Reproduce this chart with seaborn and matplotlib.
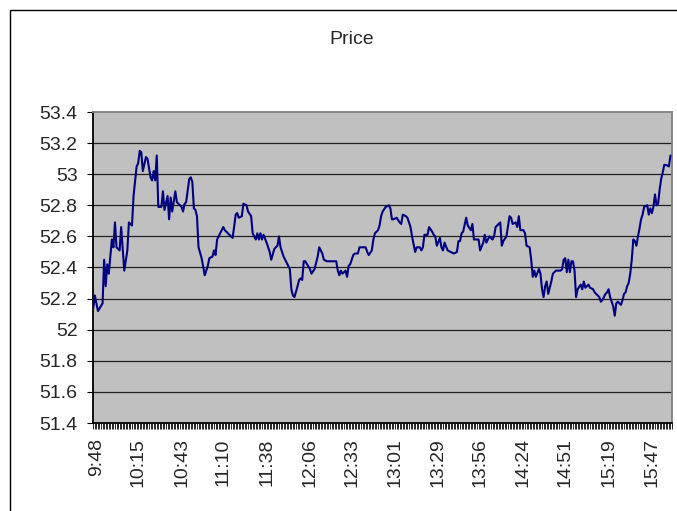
import matplotlib
matplotlib.use("Agg")
import matplotlib.pyplot as plt
from matplotlib.patches import Rectangle
from matplotlib.ticker import MultipleLocator, FixedLocator
import pandas as pd
import seaborn as sns

# minute of day (9:46 = 586) and traded price
minutes = [
    586, 587, 589, 592, 593, 594, 595, 596, 598, 599,
    600, 601, 603, 604, 606, 608, 609, 611, 612, 614,
    615, 616, 617, 618, 620, 621, 623, 624, 625, 626,
    627, 628, 630, 631, 632, 634, 635, 636, 637, 639,
    640, 642, 643, 644, 645, 646, 648, 649, 650, 651,
    652, 653, 654, 656, 658, 660, 661, 663, 664, 665,
    666, 668, 670, 671, 673, 676, 677, 678, 679, 680,
    682, 683, 685, 686, 688, 689, 691, 692, 693, 694,
    695, 696, 698, 700, 701, 703, 705, 706, 707, 709,
    711, 713, 714, 715, 716, 718, 719, 720, 721, 722,
    723, 726, 727, 729, 730, 731, 732, 734, 735, 737,
    740, 743, 744, 745, 746, 747, 749, 750, 751, 752,
    754, 755, 757, 758, 762, 763, 764, 766, 767, 768,
    770, 771, 772, 773, 775, 777, 778, 779, 780, 782,
    784, 785, 786, 788, 789, 791, 792, 794, 795, 797,
    798, 799, 800, 802, 803, 805, 806, 807, 808, 810,
    811, 812, 813, 815, 817, 819, 821, 822, 823, 824,
    825, 827, 828, 830, 831, 832, 835, 836, 838, 839,
    840, 842, 844, 845, 846, 847, 849, 850, 851, 853,
    855, 856, 857, 859, 860, 861, 862, 864, 865, 866,
    868, 869, 870, 871, 872, 874, 875, 876, 877, 878,
    879, 880, 882, 883, 885, 888, 889, 890, 891, 892,
    893, 894, 895, 896, 897, 898, 899, 901, 902, 903,
    904, 906, 907, 909, 910, 912, 913, 914, 915, 917,
    918, 919, 920, 921, 922, 923, 924, 925, 927, 928,
    929, 930, 931, 932, 933, 934, 935, 936, 937, 938,
    939, 940, 941, 942, 944, 945, 946, 947, 948, 949,
    950, 951, 952, 953, 954, 955, 956, 958, 959,
]
price = [
    52.14, 52.22, 52.12, 52.17, 52.45, 52.28, 52.42, 52.36, 52.58, 52.53,
    52.69, 52.53, 52.51, 52.66, 52.38, 52.51, 52.69, 52.67, 52.86, 53.05,
    53.07, 53.15, 53.14, 53.02, 53.11, 53.10, 52.98, 52.96, 53.02, 52.96,
    53.12, 52.79, 52.79, 52.89, 52.77, 52.86, 52.71, 52.85, 52.76, 52.89,
    52.82, 52.80, 52.79, 52.76, 52.81, 52.82, 52.97, 52.98, 52.95, 52.78,
    52.77, 52.73, 52.53, 52.46, 52.35, 52.41, 52.46, 52.47, 52.51, 52.48,
    52.58, 52.62, 52.66, 52.64, 52.62, 52.59, 52.66, 52.74, 52.75, 52.72,
    52.73, 52.81, 52.80, 52.76, 52.73, 52.62, 52.58, 52.62, 52.58, 52.62,
    52.58, 52.61, 52.56, 52.50, 52.45, 52.52, 52.54, 52.60, 52.53, 52.47,
    52.43, 52.39, 52.26, 52.22, 52.21, 52.28, 52.32, 52.33, 52.32, 52.44,
    52.44, 52.39, 52.36, 52.39, 52.43, 52.47, 52.53, 52.49, 52.45, 52.44,
    52.44, 52.44, 52.38, 52.35, 52.38, 52.36, 52.38, 52.34, 52.41, 52.42,
    52.48, 52.49, 52.49, 52.53, 52.53, 52.50, 52.48, 52.51, 52.58, 52.62,
    52.64, 52.67, 52.73, 52.76, 52.79, 52.80, 52.78, 52.71, 52.71, 52.72,
    52.69, 52.68, 52.74, 52.73, 52.72, 52.66, 52.60, 52.50, 52.53, 52.53,
    52.51, 52.53, 52.61, 52.61, 52.66, 52.63, 52.61, 52.60, 52.54, 52.59,
    52.53, 52.51, 52.56, 52.51, 52.50, 52.49, 52.50, 52.57, 52.57, 52.62,
    52.63, 52.72, 52.67, 52.64, 52.68, 52.58, 52.58, 52.51, 52.56, 52.61,
    52.56, 52.60, 52.58, 52.60, 52.66, 52.67, 52.69, 52.54, 52.57, 52.60,
    52.73, 52.72, 52.68, 52.69, 52.66, 52.73, 52.64, 52.64, 52.62, 52.54,
    52.53, 52.45, 52.34, 52.38, 52.34, 52.39, 52.36, 52.26, 52.21, 52.28,
    52.31, 52.23, 52.31, 52.36, 52.38, 52.38, 52.39, 52.45, 52.46, 52.37,
    52.45, 52.37, 52.44, 52.44, 52.38, 52.21, 52.26, 52.29, 52.26, 52.31,
    52.27, 52.29, 52.27, 52.26, 52.24, 52.22, 52.21, 52.18, 52.19, 52.23,
    52.24, 52.26, 52.21, 52.18, 52.15, 52.09, 52.17, 52.18, 52.16, 52.19,
    52.23, 52.24, 52.28, 52.30, 52.36, 52.45, 52.58, 52.57, 52.54, 52.60,
    52.65, 52.71, 52.74, 52.79, 52.80, 52.74, 52.78, 52.75, 52.79, 52.87,
    52.80, 52.81, 52.90, 52.97, 53.01, 53.06, 53.06, 53.05, 53.12,
]

tick_minutes = [588, 615, 643, 670, 698, 726, 753, 781, 809, 836, 864, 891, 919, 947]
tick_labels = ["9:48", "10:15", "10:43", "11:10", "11:38", "12:06", "12:33",
               "13:01", "13:29", "13:56", "14:24", "14:51", "15:19", "15:47"]
y_ticks = [51.4, 51.6, 51.8, 52, 52.2, 52.4, 52.6, 52.8, 53, 53.2, 53.4]

df = pd.DataFrame({"minute": minutes, "price": price})

sns.set_style("white")
plt.rcParams["font.family"] = ["Liberation Sans", "DejaVu Sans"]

fig = plt.figure(figsize=(6.77, 5.11), dpi=100)
ax = fig.add_axes([93 / 677, 1 - 423 / 511, 579 / 677, 311 / 511])
ax.set_facecolor("#c0c0c0")

sns.lineplot(data=df, x="minute", y="price", ax=ax, estimator=None, sort=False,
             color="#000080", linewidth=1.5, zorder=3)

ax.set_xlim(585.8, 960)
ax.set_ylim(51.4, 53.4)
ax.set_yticks(y_ticks)
ax.set_yticklabels([f"{v:g}" for v in y_ticks], fontsize=14)
ax.xaxis.set_major_locator(FixedLocator(tick_minutes))
ax.xaxis.set_minor_locator(MultipleLocator(1))
ax.set_xticklabels(tick_labels, rotation=90, fontsize=14)
ax.tick_params(axis="x", which="both", direction="out", length=4, width=0.6,
               color="black", bottom=True, pad=7)
ax.tick_params(axis="y", direction="out", length=4, width=0.8, color="black",
               left=True, pad=7)
ax.set_xlabel("")
ax.set_ylabel("")

ax.grid(False)
for v in y_ticks[1:-1]:
    ax.axhline(v, color="#202020", linewidth=0.9, zorder=1)

ax.spines["left"].set_color("black")
ax.spines["bottom"].set_color("black")
ax.spines["left"].set_linewidth(1.3)
ax.spines["bottom"].set_linewidth(1.3)
ax.spines["top"].set_color("#808080")
ax.spines["right"].set_color("#808080")
ax.spines["top"].set_linewidth(1.3)
ax.spines["right"].set_linewidth(1.3)

fig.text(352 / 677, 1 - 40 / 511, "Price", ha="center", va="center", fontsize=14)

# chart area border (cut off at right and bottom)
fig.patches.append(Rectangle((10 / 677, -0.2), 1.2, 1.2 - 10 / 511,
                             transform=fig.transFigure, fill=False,
                             edgecolor="black", linewidth=1.0, clip_on=False))

fig.savefig("out.png", dpi=100)
